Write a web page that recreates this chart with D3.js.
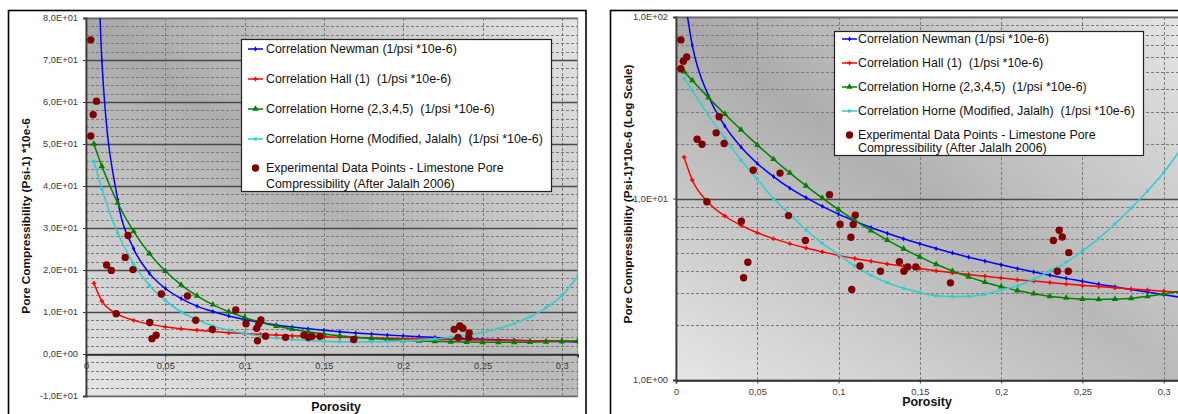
<!DOCTYPE html>
<html><head><meta charset="utf-8">
<script src="https://cdn.jsdelivr.net/npm/d3@7"></script>
<style>
html,body{margin:0;padding:0;background:#fff;}
svg{display:block;font-family:"Liberation Sans",Arial,sans-serif;}
text{white-space:pre;}
</style></head><body>
<svg id="chart" width="1178" height="414"></svg>
<script>
// ---------------- DATA ----------------
const porosity = [0.005,0.01,0.02,0.03,0.04,0.05,0.06,0.07,0.08,0.09,0.10,0.11,0.12,0.13,0.14,0.15,0.16,0.17,0.18,0.19,0.20,0.21,0.22,0.23,0.24,0.25,0.26,0.27,0.28,0.29,0.30,0.31];
const newman = [133.2,69.9,36.7,25.1,19.2,15.6,13.2,11.4,10.1,9.05,8.20,7.51,6.92,6.43,6.00,5.63,5.30,5.01,4.75,4.52,4.31,4.11,3.94,3.78,3.63,3.50,3.37,3.26,3.15,3.05,2.95,2.86];
const hall = [16.86,12.64,9.48,8.01,7.11,6.48,6.01,5.64,5.33,5.08,4.86,4.67,4.51,4.36,4.23,4.11,4.00,3.90,3.81,3.73,3.65,3.57,3.51,3.44,3.38,3.32,3.27,3.22,3.17,3.13,3.08,3.04];
const horne = [50.0,44.69,35.96,29.19,23.90,19.75,16.46,13.85,11.75,10.06,8.69,7.57,6.65,5.90,5.28,4.77,4.34,3.99,3.70,3.46,3.27,3.11,2.99,2.89,2.83,2.79,2.78,2.79,2.82,2.89,2.98,3.09];
const horneModified = [45.9,39.3,28.8,21.5,16.3,12.75,10.0,8.2,6.70,5.66,4.92,4.25,3.77,3.44,3.20,3.04,2.91,2.88,2.89,2.97,3.13,3.30,3.59,3.99,4.45,5.14,6.03,7.24,8.87,11.0,13.9,18.5];
const expPorosity = [0.003,0.0045,0.0066,0.003,0.013,0.016,0.0247,0.0265,0.0296,0.019,0.0402,0.0416,0.0442,0.0475,0.064,0.0692,0.0796,0.0944,0.1009,0.1103,0.109,0.1076,0.1081,0.1132,0.1258,0.1374,0.1402,0.1425,0.1475,0.1688,0.2321,0.2357,0.2376,0.2416,0.2346,0.2413];
const expCompressibility = [74.8,57.0,60.2,51.9,21.2,19.9,23.0,28.2,20.1,9.6,7.5,3.66,4.45,14.3,13.8,8.05,5.87,10.5,7.22,8.1,7.2,6.12,3.15,4.25,3.97,4.49,3.97,4.2,4.2,3.43,5.87,6.68,6.14,5.03,3.97,3.97];
const seriesNames = ["Correlation Newman (1/psi *10e-6)","Correlation Hall (1)  (1/psi *10e-6)","Correlation Horne (2,3,4,5)  (1/psi *10e-6)","Correlation Horne (Modified, Jalalh)  (1/psi *10e-6)"];
const expNameLines = ["Experimental Data Points - Limestone Pore","Compressibility (After Jalalh 2006)"];
const xTickValues = [0,0.05,0.1,0.15,0.2,0.25,0.3];
const xTickLabels = ["0","0,05","0,1","0,15","0,2","0,25","0,3"];
const linTickValues = [-10,0,10,20,30,40,50,60,70,80];
const linTickLabels = ["-1,0E+01","0,0E+00","1,0E+01","2,0E+01","3,0E+01","4,0E+01","5,0E+01","6,0E+01","7,0E+01","8,0E+01"];
const linMinorValues = [-8,-6,-4,-2,2,4,6,8,12,14,16,18,22,24,26,28,32,34,36,38,42,44,46,48,52,54,56,58,62,64,66,68,72,74,76,78];
const logTickValues = [1,10,100];
const logTickLabels = ["1,0E+00","1,0E+01","1,0E+02"];
const logMinorValues = [2,3,4,5,6,7,8,9,20,30,40,50,60,70,80,90];

const seriesValues = [newman, hall, horne, horneModified];
const seriesColors = ["#0000ff","#ff0000","#008000","#33cccc"];
const seriesSymbols = [d3.symbolDiamond, d3.symbolCross, d3.symbolTriangle, d3.symbolSquare];
const seriesSymSize = [8, 11, 18, 9];
const expColor = "#800000";

// ---------------- DRAW ----------------
const svg = d3.select("#chart");
const defs = svg.append("defs");
const gd = defs.append("linearGradient").attr("id","bgDiag")
  .attr("x1",0).attr("y1",1).attr("x2",1).attr("y2",0);
gd.append("stop").attr("offset",0).attr("stop-color","#e3e3e3");
gd.append("stop").attr("offset",0.5).attr("stop-color","#a8a8a8");
gd.append("stop").attr("offset",1).attr("stop-color","#e2e2e2");
const gd2 = defs.append("linearGradient").attr("id","bgLight")
  .attr("x1",0).attr("y1",0).attr("x2",1).attr("y2",1);
gd2.append("stop").attr("offset",0).attr("stop-color","#ffffff").attr("stop-opacity",0);
gd2.append("stop").attr("offset",0.45).attr("stop-color","#ffffff").attr("stop-opacity",0.1);
gd2.append("stop").attr("offset",1).attr("stop-color","#ffffff").attr("stop-opacity",0.22);

function drawPanel(cfg){
  const g = svg.append("g");
  const x = cfg.x, y = cfg.y;
  const [px0,px1] = x.range();
  const py1 = y.range()[0], py0 = y.range()[1];

  // chart frame
  g.append("rect").attr("x",cfg.frame[0]).attr("y",cfg.frame[1])
    .attr("width",cfg.frame[2]).attr("height",cfg.frame[3])
    .attr("fill","#fff").attr("stroke","#000").attr("stroke-width",1.6);

  // plot background
  g.append("rect").attr("x",px0).attr("y",py0).attr("width",px1-px0).attr("height",py1-py0)
    .attr("fill","url(#bgDiag)");
  g.append("rect").attr("x",px0).attr("y",py0).attr("width",px1-px0).attr("height",py1-py0)
    .attr("fill","url(#bgLight)");

  // minor horizontal dashed
  g.append("g").selectAll("line").data(cfg.minor).join("line")
    .attr("x1",px0).attr("x2",px1)
    .attr("y1",d=>Math.round(y(d))+0.5).attr("y2",d=>Math.round(y(d))+0.5)
    .attr("stroke","#7a7a7a").attr("stroke-width",1).attr("stroke-dasharray","3,2");
  // vertical dashed
  g.append("g").selectAll("line").data(xTickValues.filter(v=>v>0)).join("line")
    .attr("x1",d=>Math.round(x(d))+0.5).attr("x2",d=>Math.round(x(d))+0.5)
    .attr("y1",py0).attr("y2",py1)
    .attr("stroke","#7a7a7a").attr("stroke-width",1).attr("stroke-dasharray","3,2");
  // major horizontal solid
  g.append("g").selectAll("line").data(cfg.major).join("line")
    .attr("x1",px0).attr("x2",px1)
    .attr("y1",d=>Math.round(y(d))+0.5).attr("y2",d=>Math.round(y(d))+0.5)
    .attr("stroke","#4a4a4a").attr("stroke-width",1.3);

  // plot border (light)
  g.append("rect").attr("x",px0).attr("y",py0).attr("width",px1-px0).attr("height",py1-py0)
    .attr("fill","none").attr("stroke","#8a8a8a").attr("stroke-width",1);

  // y axis
  const yAxis = d3.axisLeft(y).tickValues(cfg.major).tickSize(3).tickPadding(4)
    .tickFormat((d,i)=>cfg.majorLabels[i]);
  const ya = g.append("g").attr("transform",`translate(${px0},0)`).call(yAxis);
  ya.select(".domain").attr("stroke","#3a3a3a").attr("stroke-width",1.8);
  ya.selectAll(".tick line").attr("stroke","#3a3a3a");
  ya.selectAll(".tick text").attr("font-size",9.3).attr("fill","#3a3a3a")
    .attr("font-family","'Liberation Sans',Arial,sans-serif").attr("dx",-1);

  // x axis
  const xAxis = d3.axisBottom(x).tickValues(xTickValues).tickSize(3).tickPadding(5)
    .tickFormat((d,i)=>xTickLabels[i]);
  const xa = g.append("g").attr("transform",`translate(0,${Math.round(y(cfg.xAxisAt))+0.5})`).call(xAxis);
  xa.select(".domain").attr("stroke","#2a2a2a").attr("stroke-width",1.6);
  xa.selectAll(".tick line").attr("stroke","#3a3a3a");
  xa.selectAll(".tick text").attr("font-size",9.3).attr("fill","#3a3a3a")
    .attr("font-family","'Liberation Sans',Arial,sans-serif");

  // clip
  const cid = "clip"+cfg.id;
  defs.append("clipPath").attr("id",cid).append("rect")
    .attr("x",px0).attr("y",py0).attr("width",px1-px0).attr("height",py1-py0);
  const pg = g.append("g").attr("clip-path",`url(#${cid})`);

  seriesValues.forEach((vals,si)=>{
    const pts = porosity.map((p,i)=>[x(p), y(vals[i])]);
    pg.append("path").datum(pts)
      .attr("d", d3.line().curve(d3.curveMonotoneX))
      .attr("fill","none").attr("stroke",seriesColors[si]).attr("stroke-width",1.5);
    pg.append("g").selectAll("path").data(pts).join("path")
      .attr("transform",d=>`translate(${d[0]},${d[1]})`)
      .attr("d", d3.symbol().type(seriesSymbols[si]).size(seriesSymSize[si]))
      .attr("fill",seriesColors[si]);
  });
  pg.append("g").selectAll("circle").data(expPorosity.map((p,i)=>[p,expCompressibility[i]])).join("circle")
    .attr("cx",d=>x(d[0])).attr("cy",d=>y(d[1])).attr("r",3.7).attr("fill",expColor);

  // legend
  const L = cfg.legend;
  const lg = g.append("g");
  lg.append("rect").attr("x",L.x+0.5).attr("y",L.y+0.5).attr("width",L.w).attr("height",L.h)
    .attr("fill","#fff").attr("stroke","#222").attr("stroke-width",1.2);
  seriesNames.forEach((name,si)=>{
    const cy = L.rows[si];
    lg.append("line").attr("x1",L.lx0).attr("x2",L.lx1).attr("y1",cy).attr("y2",cy)
      .attr("stroke",seriesColors[si]).attr("stroke-width",1.5);
    lg.append("path").attr("transform",`translate(${(L.lx0+L.lx1)/2},${cy})`)
      .attr("d", d3.symbol().type(seriesSymbols[si]).size(seriesSymSize[si]))
      .attr("fill",seriesColors[si]);
    lg.append("text").attr("x",L.tx).attr("y",cy+4.3).attr("font-size",12.4).attr("fill","#111")
      .attr("xml:space","preserve").text(name);
  });
  lg.append("circle").attr("cx",(L.lx0+L.lx1)/2).attr("cy",L.dotY).attr("r",3.7).attr("fill",expColor);
  expNameLines.forEach((t,i)=>{
    lg.append("text").attr("x",L.tx).attr("y",L.expLines[i]+4.3).attr("font-size",12.4).attr("fill","#111").text(t);
  });

  // titles
  g.append("text").attr("transform",`translate(${cfg.yTitle[0]},${cfg.yTitle[1]}) rotate(-90)`)
    .attr("text-anchor","middle").attr("font-size",11.8).attr("font-weight","bold").attr("fill","#111")
    .text(cfg.yTitleText);
  g.append("text").attr("x",cfg.xTitle[0]).attr("y",cfg.xTitle[1])
    .attr("text-anchor","middle").attr("font-size",12.4).attr("font-weight","bold").attr("fill","#111")
    .text("Porosity");
}

// Left panel (linear)
drawPanel({
  id:"L",
  frame:[8.5,10.5,577.5,420],
  x: d3.scaleLinear().domain([0,0.31]).range([86,577.7]),
  y: d3.scaleLinear().domain([-10,80]).range([396,18]),
  major: linTickValues, majorLabels: linTickLabels, minor: linMinorValues,
  xAxisAt: 0,
  legend:{x:241,y:39,w:310,h:152,rows:[49,79,109,139],dotY:168,expLines:[168,183.5],lx0:248,lx1:263,tx:266},
  yTitle:[30,216], yTitleText:"Pore Compressibility (Psi-1) *10e-6",
  xTitle:[336,411]
});

// Right panel (log)
drawPanel({
  id:"R",
  frame:[610.5,10.5,600,420],
  x: d3.scaleLinear().domain([0,0.31]).range([676,1180]),
  y: d3.scaleLog().domain([1,100]).range([380,17]),
  major: logTickValues, majorLabels: logTickLabels, minor: logMinorValues,
  xAxisAt: 1,
  legend:{x:834,y:31,w:309,h:124,rows:[39,63,87,111],dotY:135,expLines:[135,148],lx0:842,lx1:857,tx:858},
  yTitle:[632,194], yTitleText:"Pore Compressibility (Psi-1)*10e-6 (Log Scale)",
  xTitle:[927,406]
});
</script>
</body></html>
